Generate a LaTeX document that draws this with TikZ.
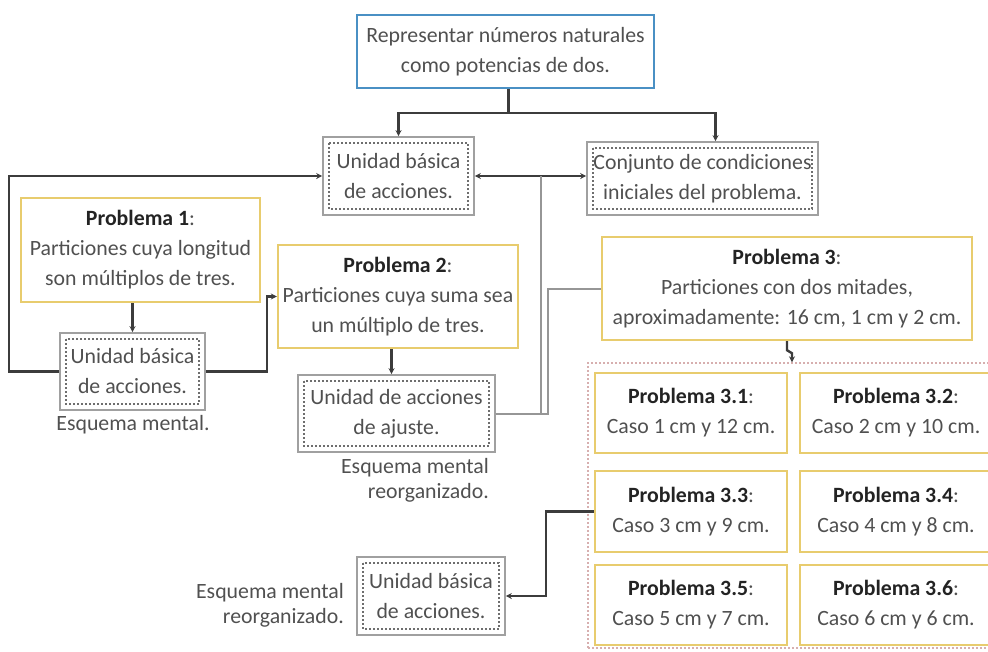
\documentclass[tikz,border=0pt]{standalone}
\usepackage{fontspec}
\setmainfont{Carlito}
\usetikzlibrary{arrows.meta}
\definecolor{txt}{RGB}{80,80,80}
\definecolor{ttl}{RGB}{35,35,35}
\definecolor{bluebd}{RGB}{74,144,196}
\definecolor{goldbd}{RGB}{232,204,110}
\definecolor{grayb}{RGB}{160,160,160}
\definecolor{dotc}{RGB}{110,110,110}
\definecolor{conn}{RGB}{60,60,60}
\definecolor{lconn}{RGB}{150,150,150}
\definecolor{pinkd}{RGB}{215,175,175}
\newcommand{\ttlx}[1]{{\bfseries\color{ttl}#1}:}
\begin{document}
\begin{tikzpicture}[x=1pt,y=-1pt,
  font=\fontsize{21.8}{30}\selectfont, text=txt,
  basebox/.style={inner sep=0pt, align=center},
  topbox/.style={basebox, draw=bluebd, line width=2.2pt},
  pbox/.style={basebox, draw=goldbd, line width=2.4pt},
  ubox/.style={basebox, draw=grayb, line width=1.6pt,
    path picture={\draw[dotc, line width=1.5pt, dash pattern=on 2pt off 2pt]
      ([xshift=6pt,yshift=-6pt]path picture bounding box.north west) rectangle
      ([xshift=-6pt,yshift=6pt]path picture bounding box.south east);}},
  lbl/.style={inner sep=0pt, align=right, font=\fontsize{21.8}{25}\selectfont},
  conbox/.style={draw=pinkd, line width=1.4pt, dash pattern=on 2pt off 2pt, inner sep=0pt},
  arr/.style={draw=conn, line width=2.4pt, -{Stealth[length=6pt,width=6pt]}},
  arrb/.style={draw=conn, line width=2.4pt, {Stealth[length=6pt,width=6pt]}-{Stealth[length=6pt,width=6pt]}},
  ln/.style={draw=conn, line width=2.4pt},
  lln/.style={draw=lconn, line width=2pt}
]
\useasboundingbox (0,0) rectangle (988,651);

% container for the sub-problems
\node[conbox, minimum width=404pt, minimum height=285pt] (cont) at (790,505.5) {};

% nodes
\node[topbox, minimum width=297pt, minimum height=73pt] (top) at (505.5,51.5)
  {Representar números naturales\\como potencias de dos.};
\node[ubox, minimum width=151pt, minimum height=78pt] (u1) at (398.5,176)
  {Unidad básica\\de acciones.};
\node[ubox, minimum width=231pt, minimum height=73pt] (cj) at (702.5,178.5)
  {Conjunto de condiciones\\iniciales del problema.};
\node[pbox, minimum width=239pt, minimum height=104pt] (p1) at (140.5,250)
  {\ttlx{Problema 1}\\Particiones cuya longitud\\son múltiplos de tres.};
\node[ubox, minimum width=145pt, minimum height=77pt] (u2) at (132.5,371.5)
  {Unidad básica\\de acciones.};
\node[lbl, align=center] (e1) at (133,425) {Esquema mental.};
\node[pbox, minimum width=240pt, minimum height=103pt] (p2) at (398,296.5)
  {\ttlx{Problema 2}\\Particiones cuya suma sea\\un múltiplo de tres.};
\node[ubox, minimum width=197pt, minimum height=77pt] (ua) at (396.5,413.5)
  {Unidad de acciones\\de ajuste.};
\node[lbl, anchor=east] (e2) at (489,480) {Esquema mental\\reorganizado.};
\node[pbox, minimum width=370pt, minimum height=103pt] (p3) at (787,288.5)
  {\ttlx{Problema 3}\\Particiones con dos mitades,\\aproximadamente: 16 cm, 1 cm y 2 cm.};
\node[pbox, minimum width=192pt, minimum height=80pt] (p31) at (691,413)
  {\ttlx{Problema 3.1}\\Caso 1 cm y 12 cm.};
\node[pbox, minimum width=192pt, minimum height=80pt] (p32) at (896,413)
  {\ttlx{Problema 3.2}\\Caso 2 cm y 10 cm.};
\node[pbox, minimum width=192pt, minimum height=81pt] (p33) at (691,511.5)
  {\ttlx{Problema 3.3}\\Caso 3 cm y 9 cm.};
\node[pbox, minimum width=192pt, minimum height=81pt] (p34) at (896,511.5)
  {\ttlx{Problema 3.4}\\Caso 4 cm y 8 cm.};
\node[pbox, minimum width=192pt, minimum height=80pt] (p35) at (691,605)
  {\ttlx{Problema 3.5}\\Caso 5 cm y 7 cm.};
\node[pbox, minimum width=192pt, minimum height=80pt] (p36) at (896,605)
  {\ttlx{Problema 3.6}\\Caso 6 cm y 6 cm.};
\node[ubox, minimum width=148pt, minimum height=78pt] (u3) at (431,596)
  {Unidad básica\\de acciones.};
\node[lbl, anchor=east] (e3) at (344,605) {Esquema mental\\reorganizado.};

% connectors
\coordinate (j1) at ([xshift=3pt,yshift=-24pt]top.south);
\draw[ln] ([xshift=3pt]top.south) -- (j1);
\draw[arr] (j1) -| (u1.north);
\draw[arr] (j1) -| ([xshift=13pt]cj.north);
\draw[arrb] (u1.east) -- (u1.east -| cj.west);
\coordinate (j2) at (541,176);
\draw[lln] (ua.east) -| (j2);
\draw[lln] (ua.east) -- ++(52,0) |- (p3.west);
\draw[arr] (u2.west) -- ++(-50,0) |- (u1.west);
\draw[arr] (p1.south -| u2.north) -- (u2.north);
\draw[arr] (u2.east) -- ++(61,0) |- (p2.west);
\draw[arr] ([xshift=-5pt]p2.south -| ua.north) -- ([xshift=-5pt]ua.north);
\draw[arr] (p3.south) -- ++(0,9) -- ++(5,3) -- ([xshift=5pt]p3.south |- cont.north);
\draw[arr] (p33.west) -- ++(-48,0) |- (u3.east);
\end{tikzpicture}
\end{document}
